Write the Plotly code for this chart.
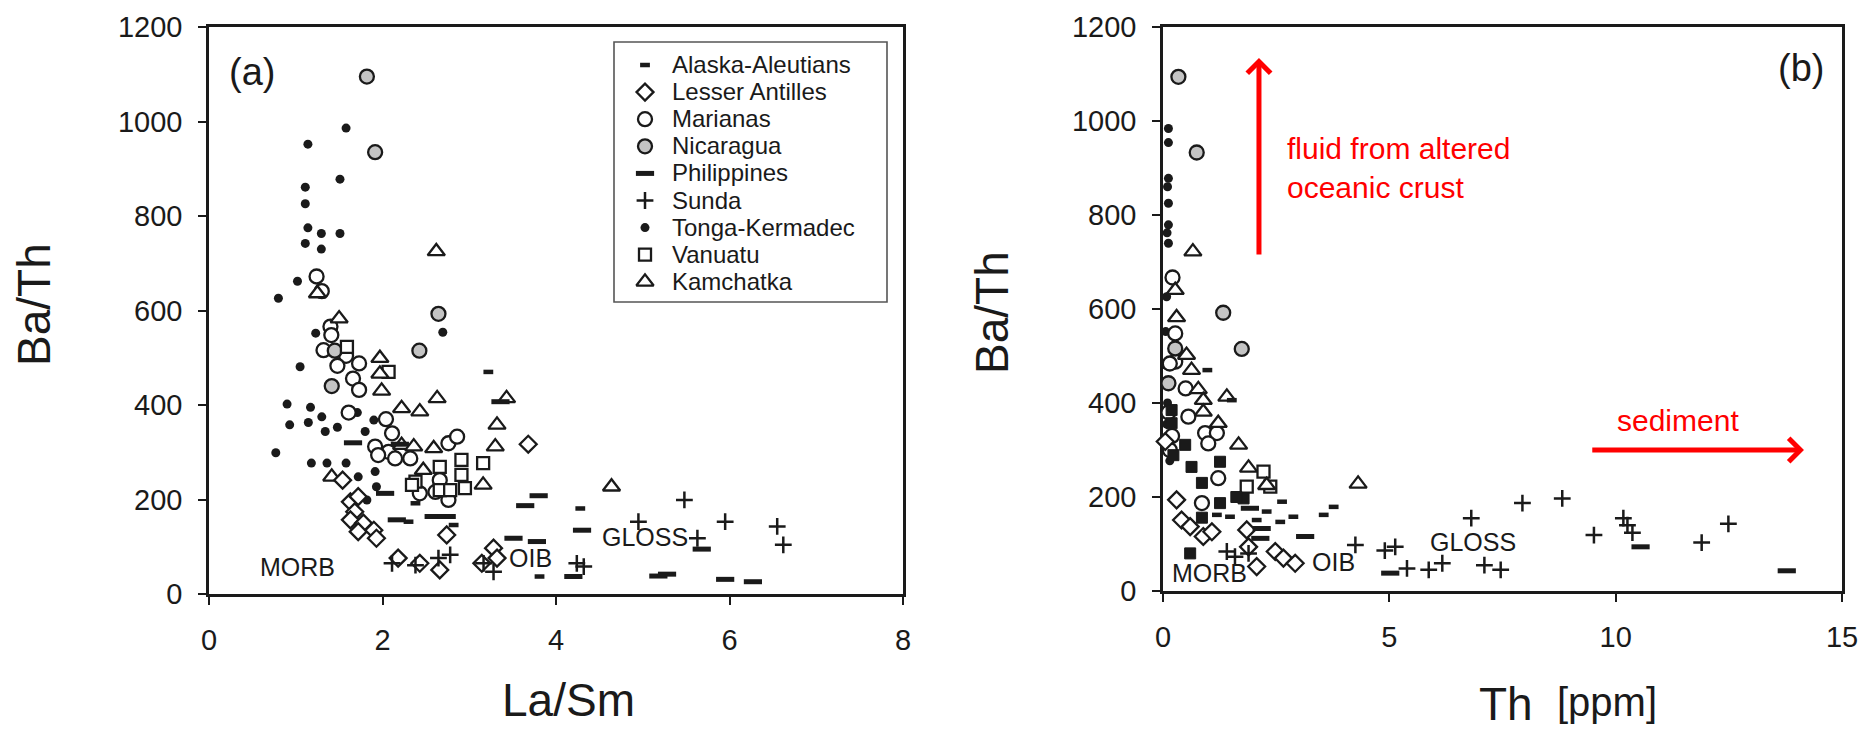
import plotly.graph_objects as go

# ---------------- DATA ----------------
categories = ["Alaska-Aleutians", "Lesser Antilles", "Marianas", "Nicaragua",
              "Philippines", "Sunda", "Tonga-Kermadec", "Vanuatu", "Kamchatka"]

# Panel (a): La/Sm vs Ba/Th
alaska_a_x = [3.22, 4.28, 2.82, 2.30, 2.38, 3.81]
alaska_a_y = [470, 181, 146, 153, 192, 37]
antilles_a_x = [1.63, 1.72, 1.68, 1.63, 1.78, 1.72, 1.90, 1.93, 2.74, 2.18, 2.43, 2.66,
                3.28, 3.145, 3.32, 3.68, 1.54]
antilles_a_y = [195, 206, 174, 157, 150, 132, 135, 118, 125, 76, 65, 51,
                97, 65, 76, 317, 241]
marianas_a_x = [1.24, 1.30, 1.40, 1.41, 1.32, 1.58, 1.48, 1.73, 1.66, 1.73, 1.61, 2.04,
                2.11, 1.915, 2.07, 1.95, 2.145, 2.76, 2.86, 2.32, 2.66, 2.61, 2.76, 2.43]
marianas_a_y = [672, 641, 566, 548, 516, 504, 483, 488, 456, 432, 384, 370,
                340, 312, 301, 294, 287, 319, 333, 287, 241, 216, 199, 213]
nicaragua_a_x = [1.82, 1.915, 2.645, 2.425, 1.45, 1.415]
nicaragua_a_y = [1095, 935, 593, 515, 515, 440]
philippines_a_x = [3.36, 1.66, 2.20, 3.80, 3.645, 4.30, 3.51, 3.78, 5.68, 4.20, 5.18,
                   5.28, 5.95, 6.27, 2.59, 2.74, 2.165, 2.03]
philippines_a_y = [407, 320, 317, 208, 187, 135, 118, 111, 95, 37, 38,
                   42, 31, 26, 164, 164, 157, 213]
sunda_a_x = [5.48, 4.95, 5.95, 6.55, 6.62, 5.63, 4.24, 4.32, 2.11, 2.38, 2.645, 2.78,
             3.165, 3.28]
sunda_a_y = [199, 153, 153, 143, 104, 118, 65, 58, 65, 61, 76, 83, 65, 47]
tonga_a_x = [1.58, 1.14, 1.51, 1.11, 1.11, 1.14, 1.295, 1.51, 1.11, 1.295, 1.02, 0.80,
             1.23, 2.695, 1.05, 0.90, 1.17, 1.30, 1.145, 0.93, 1.34, 1.48, 0.77, 1.18,
             1.36, 1.58, 1.80, 1.90, 1.915, 1.72, 1.93, 1.82, 1.71]
tonga_a_y = [986, 952, 878, 861, 826, 775, 763, 763, 742, 730, 662, 626,
             552, 554, 481, 402, 395, 375, 363, 358, 344, 353, 299, 277,
             277, 277, 344, 368, 259, 248, 227, 199, 384]
vanuatu_a_x = [1.59, 2.07, 2.38, 2.66, 2.91, 2.91, 2.95, 3.16, 2.66, 2.34, 2.78]
vanuatu_a_y = [523, 470, 238, 269, 284, 252, 224, 277, 220, 231, 220]
kamchatka_a_x = [1.25, 2.62, 1.50, 1.97, 1.97, 1.99, 2.22, 2.43, 2.63, 3.43, 3.32, 3.30,
                 2.22, 2.36, 2.59, 2.47, 3.16, 1.415, 4.64]
kamchatka_a_y = [636, 725, 583, 499, 466, 430, 393, 386, 414, 414, 358, 312,
                 315, 312, 308, 262, 231, 248, 227]

# Panel (b): Th [ppm] vs Ba/Th
alaska_b_x = [0.98, 1.52, 2.63, 2.88, 2.59, 3.77, 3.55, 2.29, 2.07, 1.48, 1.19]
alaska_b_y = [470, 406, 190, 158, 147, 179, 162, 169, 151, 158, 162]
antilles_b_x = [0.05, 0.30, 0.41, 0.60, 0.89, 1.08, 1.85, 1.89, 2.07, 2.48, 2.66, 2.92]
antilles_b_y = [318, 194, 151, 137, 116, 126, 130, 94, 52, 84, 70, 59]
marianas_b_x = [0.21, 0.27, 0.27, 0.15, 0.50, 0.56, 0.93, 1.19, 1.00, 1.22, 0.86,
                0.12, 0.15, 0.20]
marianas_b_y = [667, 548, 488, 484, 431, 371, 336, 336, 314, 240, 187,
                380, 300, 330]
nicaragua_b_x = [0.34, 0.745, 1.33, 1.74, 0.27, 0.12]
nicaragua_b_y = [1094, 933, 592, 515, 516, 442]
philippines_b_x = [3.14, 5.02, 2.18, 2.15, 1.92, 10.55, 13.78]
philippines_b_y = [116, 38, 133, 112, 176, 94, 43]
sunda_b_x = [1.41, 1.59, 1.89, 4.25, 4.90, 5.13, 5.39, 5.87, 6.17, 6.81, 7.10, 7.46,
             7.94, 8.82, 9.52, 10.17, 10.26, 10.37, 11.90, 12.49]
sunda_b_y = [84, 73, 80, 98, 86, 94, 48, 45, 59, 155, 55, 45,
             187, 197, 119, 155, 140, 124, 103, 143]
tonga_b_x = [0.12, 0.12, 0.12, 0.12, 0.12, 0.12, 0.08, 0.10, 0.09, 0.06, 0.05, 0.10,
             0.08, 0.10, 0.15]
tonga_b_y = [984, 954, 878, 825, 779, 740, 626, 860, 762, 552, 481, 400,
             355, 300, 277]
vanuatu_b_x = [2.22, 1.85, 2.37]
vanuatu_b_y = [254, 222, 222]
kamchatka_b_x = [0.27, 0.66, 0.30, 0.52, 0.63, 0.78, 0.89, 0.89, 1.41, 1.22, 1.67,
                 1.89, 2.29, 4.31]
kamchatka_b_y = [640, 722, 582, 502, 470, 429, 406, 381, 413, 357, 311,
                 262, 225, 228]
filledsq_b_x = [0.19, 0.19, 0.49, 0.23, 0.63, 0.86, 1.26, 1.26, 0.86, 0.60, 1.78, 1.62]
filledsq_b_y = [385, 357, 311, 289, 264, 230, 275, 187, 156, 80, 197, 200]

panel_a = {
    "Alaska-Aleutians": (alaska_a_x, alaska_a_y),
    "Lesser Antilles": (antilles_a_x, antilles_a_y),
    "Marianas": (marianas_a_x, marianas_a_y),
    "Nicaragua": (nicaragua_a_x, nicaragua_a_y),
    "Philippines": (philippines_a_x, philippines_a_y),
    "Sunda": (sunda_a_x, sunda_a_y),
    "Tonga-Kermadec": (tonga_a_x, tonga_a_y),
    "Vanuatu": (vanuatu_a_x, vanuatu_a_y),
    "Kamchatka": (kamchatka_a_x, kamchatka_a_y),
}
panel_b = {
    "Alaska-Aleutians": (alaska_b_x, alaska_b_y),
    "Lesser Antilles": (antilles_b_x, antilles_b_y),
    "Marianas": (marianas_b_x, marianas_b_y),
    "Nicaragua": (nicaragua_b_x, nicaragua_b_y),
    "Philippines": (philippines_b_x, philippines_b_y),
    "Sunda": (sunda_b_x, sunda_b_y),
    "Tonga-Kermadec": (tonga_b_x, tonga_b_y),
    "Vanuatu": (vanuatu_b_x, vanuatu_b_y),
    "Kamchatka": (kamchatka_b_x, kamchatka_b_y),
}

# ---------------- STYLES ----------------
INK = "#1a1a1a"
FONT = "Liberation Sans, Arial, Helvetica, sans-serif"
styles = {
    "Alaska-Aleutians": dict(symbol="line-ew", size=7, color=INK, line=dict(color=INK, width=4.5)),
    "Lesser Antilles": dict(symbol="diamond", size=13, color="white", line=dict(color=INK, width=2.3)),
    "Marianas": dict(symbol="circle", size=14, color="white", line=dict(color=INK, width=2.3)),
    "Nicaragua": dict(symbol="circle", size=14, color="#c4c4c4", line=dict(color=INK, width=2.3)),
    "Philippines": dict(symbol="line-ew", size=13, color=INK, line=dict(color=INK, width=5)),
    "Sunda": dict(symbol="cross-thin", size=12, color=INK, line=dict(color=INK, width=2.5)),
    "Tonga-Kermadec": dict(symbol="circle", size=9, color=INK, line=dict(color=INK, width=0)),
    "Vanuatu": dict(symbol="square", size=12, color="white", line=dict(color=INK, width=2.3)),
    "Kamchatka": dict(symbol="triangle-up", size=15, color="white", line=dict(color=INK, width=2.3)),
}
draw_order = ["Tonga-Kermadec", "Marianas", "Nicaragua", "Vanuatu", "Kamchatka",
              "Lesser Antilles", "Sunda", "Philippines", "Alaska-Aleutians"]

fig = go.Figure()

for name in draw_order:
    xs, ys = panel_a[name]
    fig.add_trace(go.Scatter(x=xs, y=ys, mode="markers", name=name, showlegend=False,
                             marker=styles[name], cliponaxis=False, xaxis="x", yaxis="y"))
for name in draw_order:
    xs, ys = panel_b[name]
    fig.add_trace(go.Scatter(x=xs, y=ys, mode="markers", name=name, showlegend=False,
                             marker=styles[name], cliponaxis=False, xaxis="x2", yaxis="y2"))
fig.add_trace(go.Scatter(x=filledsq_b_x, y=filledsq_b_y, mode="markers", showlegend=False,
                         marker=dict(symbol="square", size=11, color=INK, line=dict(color=INK, width=1)),
                         cliponaxis=False, xaxis="x2", yaxis="y2"))

# custom legend (panel a) on its own hidden axes: one row per category
for i, name in enumerate(categories):
    fig.add_trace(go.Scatter(x=[31], y=[i], mode="markers", showlegend=False,
                             marker=styles[name], cliponaxis=False, xaxis="x3", yaxis="y3",
                             hoverinfo="skip"))
legend_text = "<br>".join('<span style="font-size:24px">%s</span>' % n for n in categories)
fig.add_annotation(x=56, y=4, xref="x3", yref="y3", text=legend_text, showarrow=False,
                   xanchor="left", yanchor="middle", align="left",
                   font=dict(size=20.85, color=INK, family=FONT))
fig.add_shape(type="rect", xref="x3 domain", yref="y3 domain", x0=0, x1=1, y0=0, y1=1,
              line=dict(color="#555", width=1.6))

W, H = 1876, 736
axis_common = dict(showline=True, linecolor=INK, linewidth=2.6, mirror=True, ticks="outside",
                   ticklen=8, tickwidth=2.4, tickcolor=INK, showgrid=False, zeroline=False,
                   automargin=False,
                   tickfont=dict(size=29, color=INK, family=FONT), ticklabelstandoff=10)

fig.update_layout(
    width=W, height=H, margin=dict(l=0, r=0, t=0, b=0, pad=0),
    paper_bgcolor="white", plot_bgcolor="white", font=dict(family=FONT, color=INK),
    xaxis=dict(domain=[209 / W, 903 / W], range=[0, 8], tick0=0, dtick=2, anchor="y", **axis_common),
    yaxis=dict(domain=[1 - 594 / H, 1 - 27 / H], range=[0, 1200], tick0=0, dtick=200, anchor="x",
               **axis_common),
    xaxis2=dict(domain=[1163 / W, 1842 / W], range=[0, 15], tick0=0, dtick=5, anchor="y2",
                layer="below traces", **axis_common),
    yaxis2=dict(domain=[1 - 591 / H, 1 - 27 / H], range=[0, 1200], tick0=0, dtick=200, anchor="x2",
                layer="below traces", **axis_common),
    xaxis3=dict(domain=[614 / W, 887 / W], range=[0, 273], visible=False, anchor="y3",
                fixedrange=True, automargin=False),
    yaxis3=dict(domain=[1 - 302 / H, 1 - 42 / H], range=[8.745, -0.849], visible=False, anchor="x3",
                fixedrange=True, automargin=False),
)

def ann(x, y, text, xref, yref, size, color=INK, **kw):
    kw.setdefault("xanchor", "center")
    kw.setdefault("yanchor", "middle")
    fig.add_annotation(x=x, y=y, xref=xref, yref=yref, text=text, showarrow=False,
                       font=dict(size=size, color=color, family=FONT), **kw)

# panel labels and region labels
ann(0.5, 1105, "(a)", "x", "y", 38)
ann(14.1, 1113, "(b)", "x2", "y2", 38)
ann(1.015, 57, "MORB", "x", "y", 25)
ann(3.71, 76, "OIB", "x", "y", 25)
ann(5.03, 121, "GLOSS", "x", "y", 25)
ann(1.02, 38, "MORB", "x2", "y2", 25)
ann(3.76, 62, "OIB", "x2", "y2", 25)
ann(6.84, 104, "GLOSS", "x2", "y2", 25)

# red arrows and texts
fig.add_annotation(x=2.12, y=1134, ax=2.12, ay=713, xref="x2", yref="y2", axref="x2", ayref="y2",
                   text="", showarrow=True, arrowhead=4, arrowsize=0.9, arrowwidth=5, arrowcolor="red")
fig.add_annotation(x=14.16, y=300, ax=9.45, ay=300, xref="x2", yref="y2", axref="x2", ayref="y2",
                   text="", showarrow=True, arrowhead=4, arrowsize=0.9, arrowwidth=5, arrowcolor="red")
ann(2.70, 901, "fluid from altered<br>oceanic crust", "x2", "y2", 30, color="red",
    xanchor="left", align="left")
ann(11.37, 362, "sediment", "x2", "y2", 30, color="red")

# axis titles
ann(34 / W, 1 - 305 / H, "Ba/Th", "paper", "paper", 46, textangle=-90)
ann(992 / W, 1 - 313 / H, "Ba/Th", "paper", "paper", 46, textangle=-90)
ann(568 / W, 1 - 700 / H, "La/Sm", "paper", "paper", 46)
ann(1506 / W, 1 - 704 / H, "Th", "paper", "paper", 46)
ann(1607 / W, 1 - 702 / H, "[ppm]", "paper", "paper", 40)

fig.write_html("out.html", config={"displayModeBar": False},
               post_script="document.body.style.margin='0px';document.body.style.overflow='hidden';")
